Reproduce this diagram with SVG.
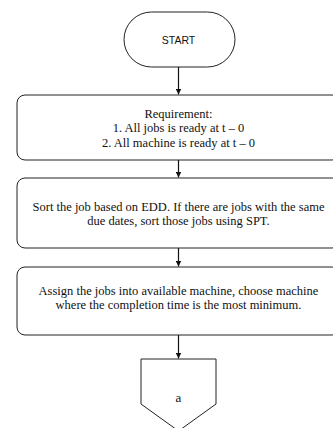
<svg xmlns="http://www.w3.org/2000/svg" width="333" height="428" viewBox="0 0 333 428">
<style>
.shape{fill:#fff;stroke:#222;stroke-width:1}
.serif{font-family:"Liberation Serif","Times New Roman",serif;font-size:12.5px;fill:#111;text-anchor:middle}
.sans{font-family:"Liberation Sans",Arial,sans-serif;font-size:10.5px;fill:#111;text-anchor:middle}
.conn{stroke:#111;stroke-width:1.2;fill:none;marker-end:url(#arr)}
</style>
<defs>
<marker id="arr" viewBox="0 0 10 10" refX="10" refY="5" markerWidth="6" markerHeight="6" markerUnits="userSpaceOnUse" orient="auto">
<path d="M0,0 L10,5 L0,10 z" fill="#111"/>
</marker>
</defs>
<rect width="333" height="428" fill="#fff"/>
<g id="connectors">
<line class="conn" x1="178.5" y1="67" x2="178.5" y2="94.5"/>
<line class="conn" x1="178.5" y1="160" x2="178.5" y2="177.5"/>
<line class="conn" x1="178.5" y1="248" x2="178.5" y2="266.5"/>
<line class="conn" x1="178.5" y1="335" x2="178.5" y2="358.5"/>
</g>
<g id="start">
<rect class="shape" x="124" y="12" width="111" height="55" rx="27.5" ry="27.5"/>
<text class="sans" x="178.5" y="44">START</text>
</g>
<g id="requirement">
<rect class="shape" x="17" y="95" width="323" height="65" rx="8" ry="8"/>
<text class="serif" x="178.5" y="117.5">Requirement:</text>
<text class="serif" x="178.5" y="132">1. All jobs is ready at t – 0</text>
<text class="serif" x="178.5" y="146.5">2. All machine is ready at t – 0</text>
</g>
<g id="sort">
<rect class="shape" x="17" y="178" width="323" height="70" rx="8" ry="8"/>
<text class="serif" x="178.5" y="211">Sort the job based on EDD. If there are jobs with the same</text>
<text class="serif" x="178.5" y="225">due dates, sort those jobs using SPT.</text>
</g>
<g id="assign">
<rect class="shape" x="17" y="267" width="323" height="68" rx="8" ry="8"/>
<text class="serif" x="178.5" y="295">Assign the jobs into available machine, choose machine</text>
<text class="serif" x="178.5" y="309">where the completion time is the most minimum.</text>
</g>
<g id="a">
<polygon class="shape" points="141,359 216,359 216,404 178.5,431 141,404"/>
<text class="serif" x="178.5" y="402" style="font-size:13px">a</text>
</g>
</svg>
